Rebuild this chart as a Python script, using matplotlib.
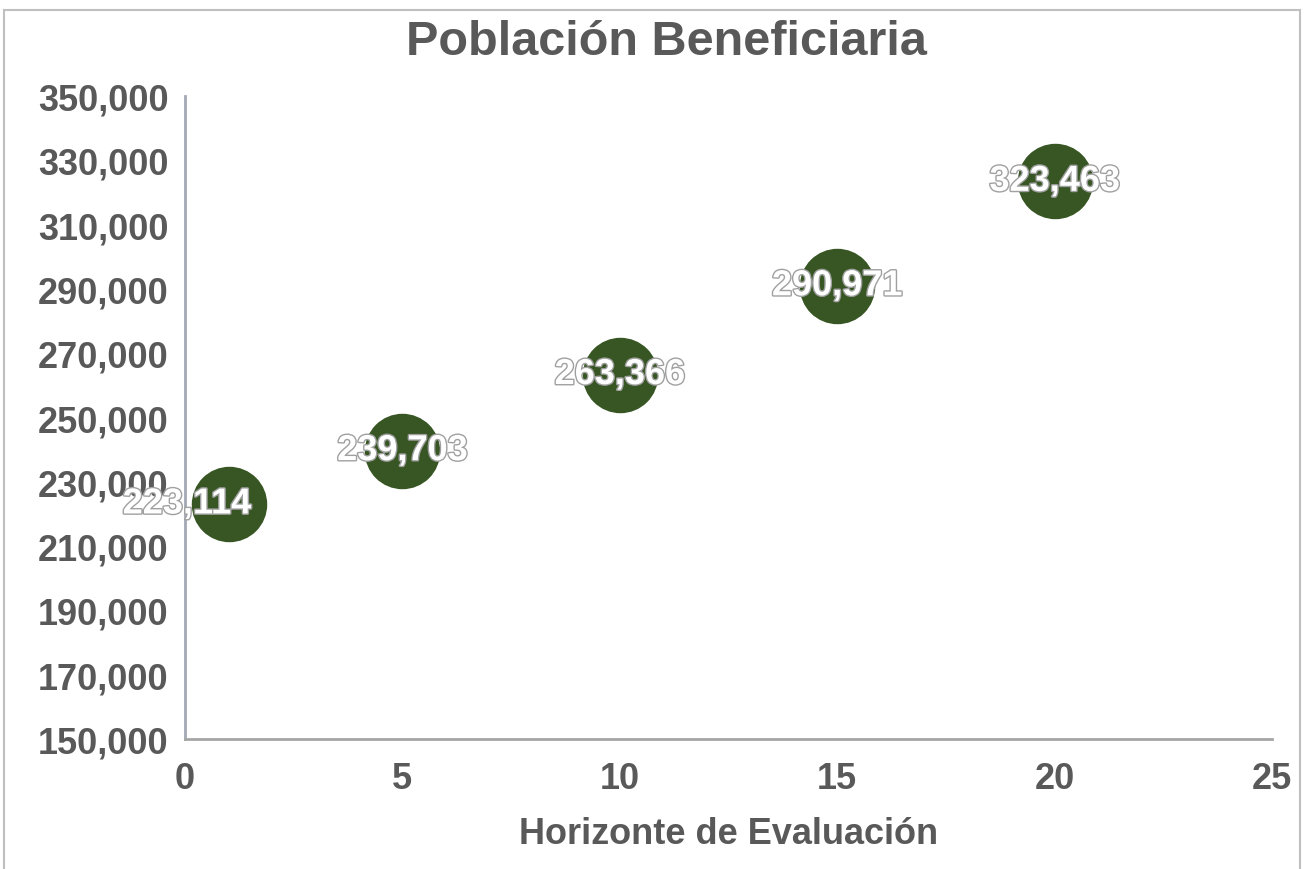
import matplotlib.pyplot as plt
import matplotlib.patheffects as pe
from matplotlib.patches import Rectangle
from matplotlib.ticker import FuncFormatter

# data
years = [1, 5, 10, 15, 20]
population = [223114, 239703, 263366, 290971, 323463]
label_dx = [-30, 0, 0, 0, 0]  # label nudge in points

plt.rcParams['font.family'] = ['Liberation Sans', 'DejaVu Sans']
plt.rcParams['font.weight'] = 'bold'
txt = '#595959'

fig = plt.figure(figsize=(13.04, 8.70), dpi=100)
ax = fig.add_axes([0.1419, 0.1494, 0.8336, 0.7391])

ax.scatter(years, population, s=2950, color='#375623', zorder=3, linewidths=0)

for x, y, dx in zip(years, population, label_dx):
    ax.annotate(f'{y:,}', (x, y), xytext=(dx, 0), textcoords='offset points',
                ha='center', va='center', fontsize=26, fontweight='bold',
                color='white', zorder=4,
                path_effects=[pe.withStroke(linewidth=2, foreground='#A0A0A0')])

ax.set_xlim(0, 25)
ax.set_ylim(150000, 350000)
ax.set_xticks(range(0, 26, 5))
ax.set_yticks(range(150000, 350001, 20000))
ax.yaxis.set_major_formatter(FuncFormatter(lambda v, p: f'{int(v):,}'))
ax.tick_params(length=0, labelsize=26, colors=txt)
ax.tick_params(axis='x', pad=16)
ax.tick_params(axis='y', pad=12)
for lab in ax.get_xticklabels() + ax.get_yticklabels():
    lab.set_fontweight('bold')

for s in ['top', 'right']:
    ax.spines[s].set_visible(False)
ax.spines['left'].set_color('#A3A8B5')
ax.spines['bottom'].set_color('#A6A6A6')
ax.spines['left'].set_linewidth(2)
ax.spines['bottom'].set_linewidth(2)

ax.set_xlabel('Horizonte de Evaluación', fontsize=26, fontweight='bold',
              color=txt, labelpad=14)
fig.suptitle('Población Beneficiaria', x=0.511, y=0.977, fontsize=35,
             fontweight='bold', color=txt)

# outer frame
fig.patches.append(Rectangle((4 / 1304, -0.1), 1296 / 1304, 1.1 - 11 / 870,
                             transform=fig.transFigure, fill=False,
                             edgecolor='#BFBFBF', linewidth=1.5))

fig.savefig('out.png', dpi=100)
